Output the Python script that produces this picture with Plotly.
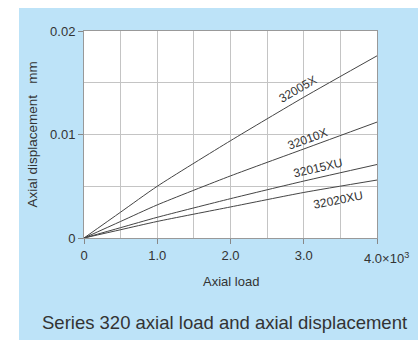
import plotly.graph_objects as go

# Axial load (x10^3) and axial displacement (mm) for series 320 bearings
load = [0, 0.5, 1.0, 2.0, 3.0, 4.0]
disp_32005x = [0, 0.0025, 0.0050, 0.0094, 0.0136, 0.0176]
disp_32010x = [0, 0.0016, 0.0032, 0.0060, 0.0086, 0.0112]
disp_32015xu = [0, 0.0010, 0.0020, 0.0038, 0.0055, 0.0071]
disp_32020xu = [0, 0.0008, 0.0016, 0.0030, 0.0044, 0.0056]

series = [
    ("32005X", disp_32005x),
    ("32010X", disp_32010x),
    ("32015XU", disp_32015xu),
    ("32020XU", disp_32020xu),
]

# label placement along each curve: (x, y, angle)
label_pos = {
    "32005X": (2.92, 0.01442, -30),
    "32010X": (3.05, 0.00952, -20),
    "32015XU": (3.19, 0.00673, -13),
    "32020XU": (3.47, 0.00370, -11),
}

x_tickvals = [0, 1.0, 2.0, 3.0, 4.0]
x_ticktext = ["0", "1.0", "2.0", "3.0", " "]
y_tickvals = [0, 0.01, 0.02]
y_ticktext = ["0", "0.01", "0.02"]

FONT = "Liberation Sans, Arial, sans-serif"
TXT = "#333333"
PANEL = "#bde3f8"
GRID = "#c4c4c4"

fig = go.Figure()
for name, vals in series:
    fig.add_trace(go.Scatter(
        x=load, y=vals, mode="lines", name=name,
        line=dict(color="#444444", width=1, shape="spline", smoothing=0.6),
        showlegend=False, hoverinfo="skip",
    ))

annotations = []
for name, (lx, ly, ang) in label_pos.items():
    annotations.append(dict(
        x=lx, y=ly, xref="x", yref="y", text=name, showarrow=False,
        textangle=ang, font=dict(family=FONT, size=12, color=TXT),
        xanchor="center", yanchor="middle",
    ))

# last x tick label carries the multiplier
annotations.append(dict(
    x=4.0, y=0, xref="x", yref="paper",
    text="4.0×10<sup>3</sup>",
    showarrow=False, xanchor="left", yanchor="middle",
    xshift=-15, yshift=-20, font=dict(family=FONT, size=13, color=TXT),
))
annotations.append(dict(
    x=0.5, y=0, xref="paper", yref="paper", text="Axial load",
    showarrow=False, xanchor="center", yanchor="middle", yshift=-43,
    font=dict(family=FONT, size=13, color=TXT),
))
annotations.append(dict(
    x=0, y=0.5, xref="paper", yref="paper",
    text="Axial displacement\u00a0\u00a0\u00a0mm",
    showarrow=False, xanchor="center", yanchor="middle", xshift=-52,
    textangle=-90, font=dict(family=FONT, size=13.5, color=TXT),
))
annotations.append(dict(
    x=0.4795, y=0, xref="paper", yref="paper",
    text="Series 320 axial load and axial displacement",
    showarrow=False, xanchor="center", yanchor="middle", yshift=-84,
    font=dict(family=FONT, size=18.5, color=TXT),
))

W, H = 418, 340
ML, MR, MT, MB = 84, 41, 31, 102
pw, ph = W - ML - MR, H - MT - MB

shapes = [
    # light blue panel behind the chart
    dict(type="rect", xref="paper", yref="paper", layer="below",
         x0=(19 - ML) / pw, x1=(W + 5 - ML) / pw,
         y0=-(H + 5 - MT - ph) / ph, y1=(H - MB - 8) / ph,
         fillcolor=PANEL, line=dict(width=0)),
    # white plotting area
    dict(type="rect", xref="paper", yref="paper", layer="below",
         x0=0, x1=1, y0=0, y1=1, fillcolor="white", line=dict(width=0)),
]

fig.update_layout(
    width=W, height=H,
    margin=dict(l=ML, r=MR, t=MT, b=MB),
    paper_bgcolor="white", plot_bgcolor="white",
    font=dict(family=FONT, size=13, color=TXT),
    annotations=annotations, shapes=shapes,
    xaxis=dict(
        range=[0, 4.0], tickvals=x_tickvals, ticktext=x_ticktext,
        ticks="outside", ticklen=5, tickcolor="#888888",
        showline=True, linecolor="#999999", linewidth=1, mirror=True,
        showgrid=True, gridcolor=GRID, gridwidth=1, zeroline=False,
        minor=dict(dtick=0.5, showgrid=True, gridcolor=GRID, ticks=""),
        tickfont=dict(family=FONT, size=13, color=TXT),
        fixedrange=True,
    ),
    yaxis=dict(
        range=[0, 0.02], tickvals=y_tickvals, ticktext=y_ticktext,
        ticks="outside", ticklen=5, tickcolor="#888888",
        showline=True, linecolor="#999999", linewidth=1, mirror=True,
        showgrid=True, gridcolor=GRID, gridwidth=1, zeroline=False,
        minor=dict(dtick=0.005, showgrid=True, gridcolor=GRID, ticks=""),
        tickfont=dict(family=FONT, size=13, color=TXT),
        fixedrange=True,
    ),
)

fig.write_html("out.html", config={"displayModeBar": False})
